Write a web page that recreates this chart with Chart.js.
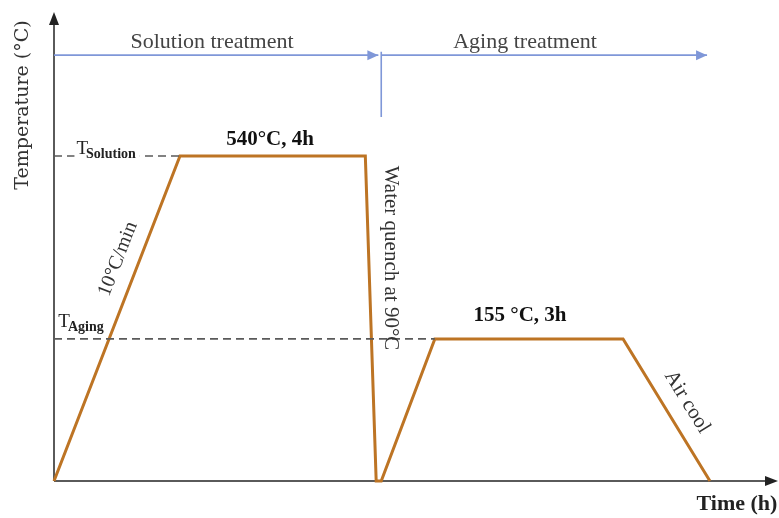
<!DOCTYPE html>
<html>
<head>
<meta charset="utf-8">
<script src="https://cdn.jsdelivr.net/npm/chart.js@4.4.1/dist/chart.umd.min.js"></script>
<style>
  html, body { margin: 0; padding: 0; background: #fff; }
  #wrap { width: 779px; height: 518px; position: relative; }
</style>
</head>
<body>
<div id="wrap"><canvas id="cycleChart"></canvas></div>
<script>
// schematic units: time 0-100 along the axis, temperature 0-100 up the axis
const timeH = [0, 17.4, 43.0, 44.5, 45.2, 52.6, 78.6, 90.6];
const tempC = [0, 69.3, 69.3, 0, 0, 30.3, 30.3, 0];

const tSolution = 69.3;
const tAging = 30.3;
const solutionEnd = 17.4;
const agingStart = 52.6;

// stage arrows along the top
const stageY = 90.8;
const stageSolution = [0, 44.8];
const stageAging = [45.2, 90.2];
const dividerX = 45.2;
const dividerY = [91.5, 77.6];

const ORANGE = '#bd7424';
const BLUE = '#7f97d8';
const AXIS = '#5a5a5a';
const SERIF = '"Liberation Serif", "DejaVu Serif", serif';

function pts(xs, ys) {
    return xs.map((x, i) => ({ x: x, y: ys[i] }));
}

function arrowHead(ctx, x, y, dir, len, half, color) {
    ctx.save();
    ctx.translate(x, y);
    ctx.rotate(dir);
    ctx.fillStyle = color;
    ctx.beginPath();
    ctx.moveTo(0, 0);
    ctx.lineTo(-len, -half);
    ctx.lineTo(-len, half);
    ctx.closePath();
    ctx.fill();
    ctx.restore();
}

function label(ctx, text, x, y, opts) {
    ctx.save();
    ctx.translate(x, y);
    ctx.rotate((opts.angle || 0) * Math.PI / 180);
    ctx.font = opts.font;
    ctx.fillStyle = opts.color || '#333';
    ctx.textAlign = opts.align || 'center';
    ctx.textBaseline = opts.baseline || 'middle';
    ctx.fillText(text, 0, 0);
    ctx.restore();
}

// T with a subscript, sitting over the dashed line
function tLabel(ctx, x, y, sub) {
    ctx.save();
    ctx.font = '19px ' + SERIF;
    const wT = ctx.measureText('T').width;
    ctx.font = 'bold 14px ' + SERIF;
    const wS = ctx.measureText(sub).width;
    ctx.fillStyle = '#fff';
    ctx.fillRect(x - 2, y - 15, wT + wS + 4, 21);
    ctx.fillStyle = '#222';
    ctx.textBaseline = 'alphabetic';
    ctx.textAlign = 'left';
    ctx.font = '19px ' + SERIF;
    ctx.fillText('T', x, y);
    ctx.font = 'bold 14px ' + SERIF;
    ctx.fillText(sub, x + wT - 2, y + 4);
    ctx.restore();
}

const decorations = {
    id: 'decorations',
    beforeDatasetsDraw(chart) {
        const ctx = chart.ctx;
        const a = chart.chartArea;
        const xs = chart.scales.x, ys = chart.scales.y;
        const x0 = xs.getPixelForValue(0), y0 = ys.getPixelForValue(0);
        ctx.save();
        ctx.strokeStyle = AXIS;
        ctx.lineWidth = 2;
        ctx.beginPath();
        ctx.moveTo(x0, y0);
        ctx.lineTo(x0, a.top + 10);
        ctx.moveTo(x0, y0);
        ctx.lineTo(a.right - 10, y0);
        ctx.stroke();
        ctx.restore();
        arrowHead(ctx, x0, a.top, -Math.PI / 2, 13, 5, '#222');
        arrowHead(ctx, a.right, y0, 0, 13, 5, '#222');
    },
    afterDatasetsDraw(chart) {
        const ctx = chart.ctx;
        const xs = chart.scales.x, ys = chart.scales.y;
        const sy = ys.getPixelForValue(stageY);
        arrowHead(ctx, xs.getPixelForValue(stageSolution[1]), sy, 0, 11, 5, BLUE);
        arrowHead(ctx, xs.getPixelForValue(stageAging[1]), sy, 0, 11, 5, BLUE);

        tLabel(ctx, xs.getPixelForValue(3.1), ys.getPixelForValue(tSolution) - 2, 'Solution');
        tLabel(ctx, xs.getPixelForValue(0.6), ys.getPixelForValue(tAging) - 12, 'Aging');

        label(ctx, 'Solution treatment', 212, 42, { font: '22px ' + SERIF, color: '#444' });
        label(ctx, 'Aging treatment', 525, 42, { font: '22px ' + SERIF, color: '#444' });
        label(ctx, 'Temperature (°C)', 23, 105, { font: '19px "DejaVu Serif", serif', angle: -90 });
        label(ctx, 'Time (h)', 737, 504, { font: 'bold 22px ' + SERIF, color: '#222' });
        label(ctx, '540°C, 4h', 270, 140, { font: 'bold 21px ' + SERIF, color: '#111' });
        label(ctx, '155 °C, 3h', 520, 316, { font: 'bold 21px ' + SERIF, color: '#111' });
        label(ctx, '10°C/min', 118, 259, { font: '20px ' + SERIF, angle: -68.8 });
        label(ctx, 'Water quench at 90°C', 391, 258, { font: '21px ' + SERIF, angle: 90 });
        label(ctx, 'Air cool', 687, 402, { font: '21px ' + SERIF, angle: 58.5 });
    }
};

const thin = { pointRadius: 0, showLine: true, clip: false, fill: false, tension: 0 };

new Chart(document.getElementById('cycleChart'), {
    type: 'scatter',
    data: {
        datasets: [
            Object.assign({ data: pts([0, solutionEnd], [tSolution, tSolution]), borderColor: AXIS, borderWidth: 1.6, borderDash: [8, 5] }, thin),
            Object.assign({ data: pts([0, agingStart], [tAging, tAging]), borderColor: AXIS, borderWidth: 1.6, borderDash: [8, 5] }, thin),
            Object.assign({ data: pts(stageSolution, [stageY, stageY]), borderColor: BLUE, borderWidth: 1.6 }, thin),
            Object.assign({ data: pts(stageAging, [stageY, stageY]), borderColor: BLUE, borderWidth: 1.6 }, thin),
            Object.assign({ data: pts([dividerX, dividerX], dividerY), borderColor: BLUE, borderWidth: 1.6 }, thin),
            Object.assign({ data: pts(timeH, tempC), borderColor: ORANGE, borderWidth: 3, borderJoinStyle: 'miter' }, thin)
        ]
    },
    options: {
        responsive: true,
        maintainAspectRatio: false,
        animation: false,
        layout: { padding: { left: 54, right: 1, top: 12, bottom: 37 } },
        plugins: { legend: { display: false }, tooltip: { enabled: false } },
        scales: {
            x: { type: 'linear', min: 0, max: 100, display: false },
            y: { type: 'linear', min: 0, max: 100, display: false }
        }
    },
    plugins: [decorations]
});
</script>
</body>
</html>
